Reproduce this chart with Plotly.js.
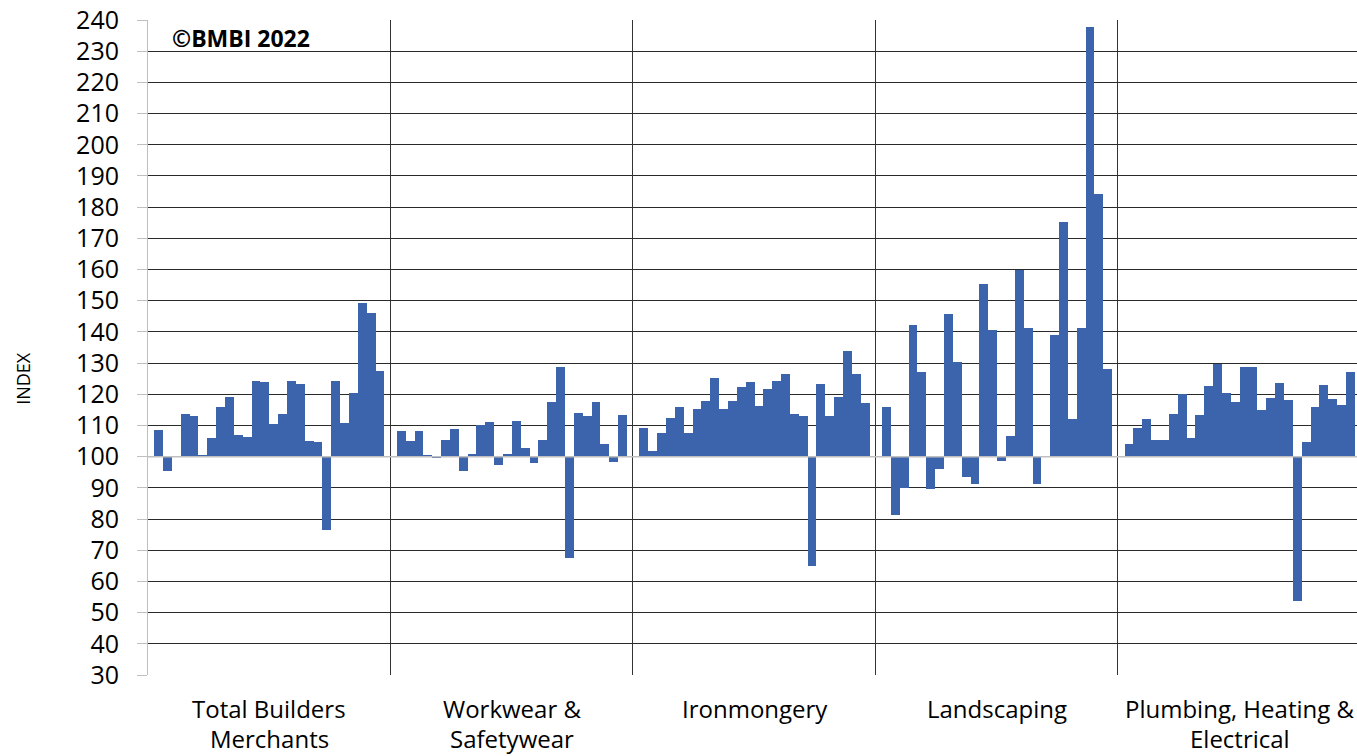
<!DOCTYPE html>
<html>
<head>
<meta charset="utf-8">
<script src="https://cdn.plot.ly/plotly-3.0.1.min.js"></script>
<style>
  html, body { margin: 0; padding: 0; overflow: hidden; background: #fff; }
</style>
</head>
<body>
<div id="chart"></div>
<script>
// Category groups along the bottom
const GROUPS = ['Total Builders<br>Merchants', 'Workwear &<br>Safetywear', 'Ironmongery', 'Landscaping', 'Plumbing, Heating &<br>Electrical'];

// Index values (26 periods per group)
const totalBM = [108.7, 95.4, 100.3, 113.7, 113.1, 100.6, 105.9, 116.0, 119.0, 107.0, 106.3, 124.3, 123.9,
                 110.5, 113.7, 124.3, 123.3, 105.1, 104.8, 76.4, 124.3, 110.8, 120.4, 149.4, 146.0, 127.5];
const workwear = [108.3, 105.1, 108.3, 100.4, 99.5, 105.5, 109.0, 95.3, 100.8, 110.1, 111.0, 97.3, 100.8,
                  111.4, 102.9, 98.1, 105.5, 117.5, 128.7, 67.6, 113.9, 113.2, 117.5, 104.0, 98.4, 113.5];
const ironmongery = [109.3, 101.9, 107.5, 112.5, 115.8, 107.5, 115.3, 117.9, 125.2, 115.3, 117.9, 122.4, 123.9,
                     116.4, 121.7, 124.2, 126.4, 113.6, 113.0, 65.1, 123.2, 113.0, 119.2, 133.8, 126.4, 117.1];
const landscaping = [115.9, 81.2, 89.9, 142.3, 127.2, 89.7, 95.9, 145.9, 130.4, 93.6, 91.2, 155.4, 140.6,
                     98.6, 106.6, 160.0, 141.3, 91.2, 100.3, 139.0, 175.3, 112.1, 141.3, 237.6, 184.1, 128.2];
const plumbing = [104.2, 109.2, 112.0, 105.5, 105.5, 113.8, 120.0, 106.1, 113.5, 122.6, 129.8, 120.3, 117.4,
                  128.6, 128.6, 114.9, 118.8, 123.5, 118.3, 53.8, 104.6, 116.0, 123.1, 118.4, 116.7, 127.3];

const SERIES = [totalBM, workwear, ironmongery, landscaping, plumbing];

const BAR_COLOR = '#3c64ad';
const GRID_COLOR = '#2a2a2a';
const AXIS_GREY = '#bfbfbf';
const FONT = 'Open Sans, sans-serif';

const traces = [];
const layout = {
    width: 1361,
    height: 756,
    margin: { l: 148, r: 0, t: 20, b: 81 },
    paper_bgcolor: '#fff',
    plot_bgcolor: '#fff',
    showlegend: false,
    bargap: 0,
    font: { family: FONT, color: '#000' },
    annotations: [],
    shapes: []
};

SERIES.forEach((vals, i) => {
    const sfx = i === 0 ? '' : String(i + 1);
    traces.push({
        type: 'bar',
        x: vals.map((_, k) => k),
        y: vals.map(v => v - 100),
        base: 100,
        xaxis: 'x' + sfx,
        yaxis: 'y' + sfx,
        marker: { color: BAR_COLOR, line: { width: 0 } },
        hovertemplate: '%{customdata}<extra></extra>',
        customdata: vals
    });

    layout['xaxis' + sfx] = {
        domain: [i / 5, (i + 1) / 5],
        anchor: 'y' + sfx,
        range: [-1.2, vals.length + 0.2],
        showticklabels: false,
        showgrid: false,
        zeroline: false,
        ticks: ''
    };

    const yax = {
        domain: [0, 1],
        anchor: 'x' + sfx,
        range: [30, 240],
        dtick: 10,
        tick0: 30,
        showgrid: true,
        gridcolor: GRID_COLOR,
        gridwidth: 1,
        zeroline: false,
        showline: true
    };
    if (i === 0) {
        Object.assign(yax, {
            linecolor: AXIS_GREY,
            ticks: 'outside',
            ticklen: 10,
            tickcolor: AXIS_GREY,
            ticklabelstandoff: 13,
            tickfont: { family: FONT, size: 25, color: '#000' }
        });
    } else {
        Object.assign(yax, {
            linecolor: '#333',
            showticklabels: false,
            ticks: ''
        });
    }
    layout['yaxis' + sfx] = yax;

    // category label, one annotation per line so the line spacing matches
    GROUPS[i].split('<br>').forEach((line, j) => {
        layout.annotations.push({
            text: line,
            xref: 'paper', yref: 'paper',
            x: (i + 0.5) / 5, y: -(34 + 29 * j) / 655,
            xanchor: 'center', yanchor: 'middle',
            showarrow: false,
            font: { family: FONT, size: 24, color: '#000' }
        });
    });
});

// category axis crosses at 100 (light grey line)
layout.shapes.push({
    type: 'line', xref: 'paper', yref: 'y',
    x0: 0, x1: 1, y0: 100, y1: 100,
    line: { color: AXIS_GREY, width: 1.5 },
    layer: 'above'
});

layout.annotations.push({
    text: 'INDEX',
    xref: 'paper', yref: 'paper',
    x: -0.1026, y: 0.453,
    xanchor: 'center', yanchor: 'middle',
    textangle: -90,
    showarrow: false,
    font: { family: FONT, size: 18, color: '#000' }
});

layout.annotations.push({
    text: '<b>©BMBI 2022</b>',
    xref: 'paper', yref: 'paper',
    x: 0.0185, y: 0.9725,
    xanchor: 'left', yanchor: 'middle',
    showarrow: false,
    font: { family: FONT, size: 23, color: '#000' }
});

Plotly.newPlot('chart', traces, layout, { displayModeBar: false, staticPlot: true });
</script>
</body>
</html>
